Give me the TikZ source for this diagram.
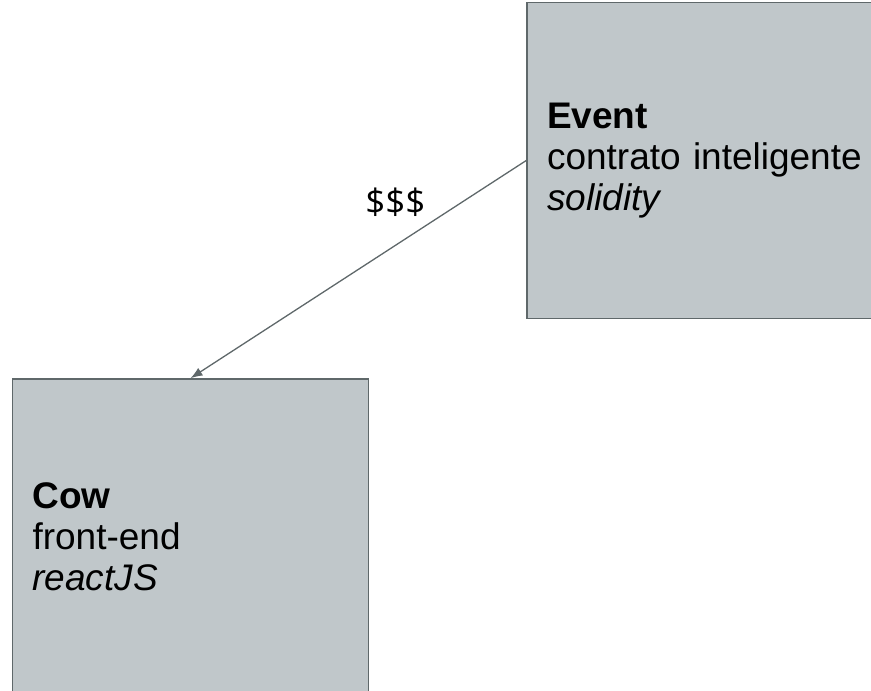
\documentclass[tikz,border=0pt]{standalone}
\usepackage{fontspec}
\setmainfont{Liberation Sans}
\newfontfamily\labelfont{Open Sans}
\usetikzlibrary{arrows.meta}
\definecolor{boxfill}{RGB}{192,199,202}
\definecolor{boxline}{RGB}{95,104,106}

\begin{document}
\begin{tikzpicture}[x=1pt,y=-1pt,flow/.style = {draw=boxline,line width=1.3pt,-{Latex[length=12pt,width=9pt]}},blk/.style = {rectangle, draw=boxline, line width=1.5pt, fill=boxfill, minimum height=316pt, text width=316pt, inner xsep=20pt, align=left, font=\fontsize{37}{41}\selectfont}]
\useasboundingbox (0,0) rectangle (871,691);
\clip (0,0) rectangle (871,691);
\node (event) [blk] at (705,160.5) {\textbf{Event}\\contrato inteligente\\\textit{solidity}};
\node (cow) [blk] at (190.5,537) {\textbf{Cow}\\front-end\\\textit{reactJS}};
%\node (money) at (396,203) {\$\$\$};
\draw [flow] (event.west) -- node (money) [pos=0.39, yshift=43pt, font=\labelfont\fontsize{35}{40}\selectfont, text=black] {\$\$\$} (cow.north);
\end{tikzpicture}
\end{document}
